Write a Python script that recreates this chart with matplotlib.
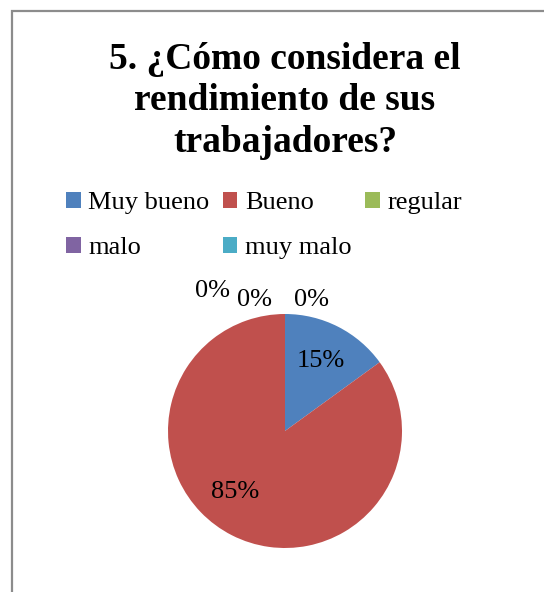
import matplotlib.pyplot as plt
from matplotlib.patches import Rectangle, Patch

plt.rcParams['font.family'] = ['Liberation Serif', 'DejaVu Serif']

# datos de la encuesta
categorias = ["Muy bueno", "Bueno", "regular", "malo", "muy malo"]
porcentajes = [15, 85, 0, 0, 0]
colores = ["#4F81BD", "#C0504D", "#9BBB59", "#8064A2", "#4BACC6"]
titulo = "5. ¿Cómo considera el\nrendimiento de sus\ntrabajadores?"

W, H = 544, 592
fig = plt.figure(figsize=(W / 100, H / 100), dpi=100)

# marco gris del grafico
fig.patches.append(Rectangle((12 / W, -0.1), 1.2, (H - 10.5) / H + 0.1,
                             transform=fig.transFigure, fill=False,
                             edgecolor="#8c8c8c", lw=1.6, clip_on=False))

fig.text(285 / W, 1 - 101 / H, titulo, ha="center", va="center",
         fontsize=27, fontweight="bold", linespacing=1.25)

# pie
cx, cy, r = 285, H - 431, 117
ax = fig.add_axes([(cx - r) / W, (cy - r) / H, 2 * r / W, 2 * r / H])
wedges, textos, autotextos = ax.pie(porcentajes, colors=colores, startangle=90,
                                    counterclock=False, radius=1,
                                    autopct="%1.0f%%", pctdistance=0.67,
                                    wedgeprops={"linewidth": 0},
                                    textprops={"fontsize": 19})
ax.set_xlim(-1, 1)
ax.set_ylim(-1, 1)
ax.set_aspect("auto")

# etiquetas de las porciones en cero, fuera del pie
pos_cero = [(-0.62, 1.2), (-0.26, 1.12), (0.23, 1.12)]
for t, (x, y) in zip(autotextos[2:], pos_cero):
    t.set_position((x, y))
autotextos[1].set_position((-0.43, -0.52))

# leyenda, ordenada para llenar por filas
orden = [0, 3, 1, 4, 2]
handles = [Patch(facecolor=colores[i], edgecolor="none") for i in orden]
labels = [categorias[i] for i in orden]
fig.legend(handles, labels, ncol=3, loc="upper left",
           bbox_to_anchor=(66 / W, 1 - 192 / H), frameon=False,
           fontsize=19, handlelength=0.55, handleheight=0.55,
           handletextpad=0.3, columnspacing=0.5, labelspacing=0.85,
           borderpad=0, borderaxespad=0)

plt.savefig("out.png", dpi=100)
